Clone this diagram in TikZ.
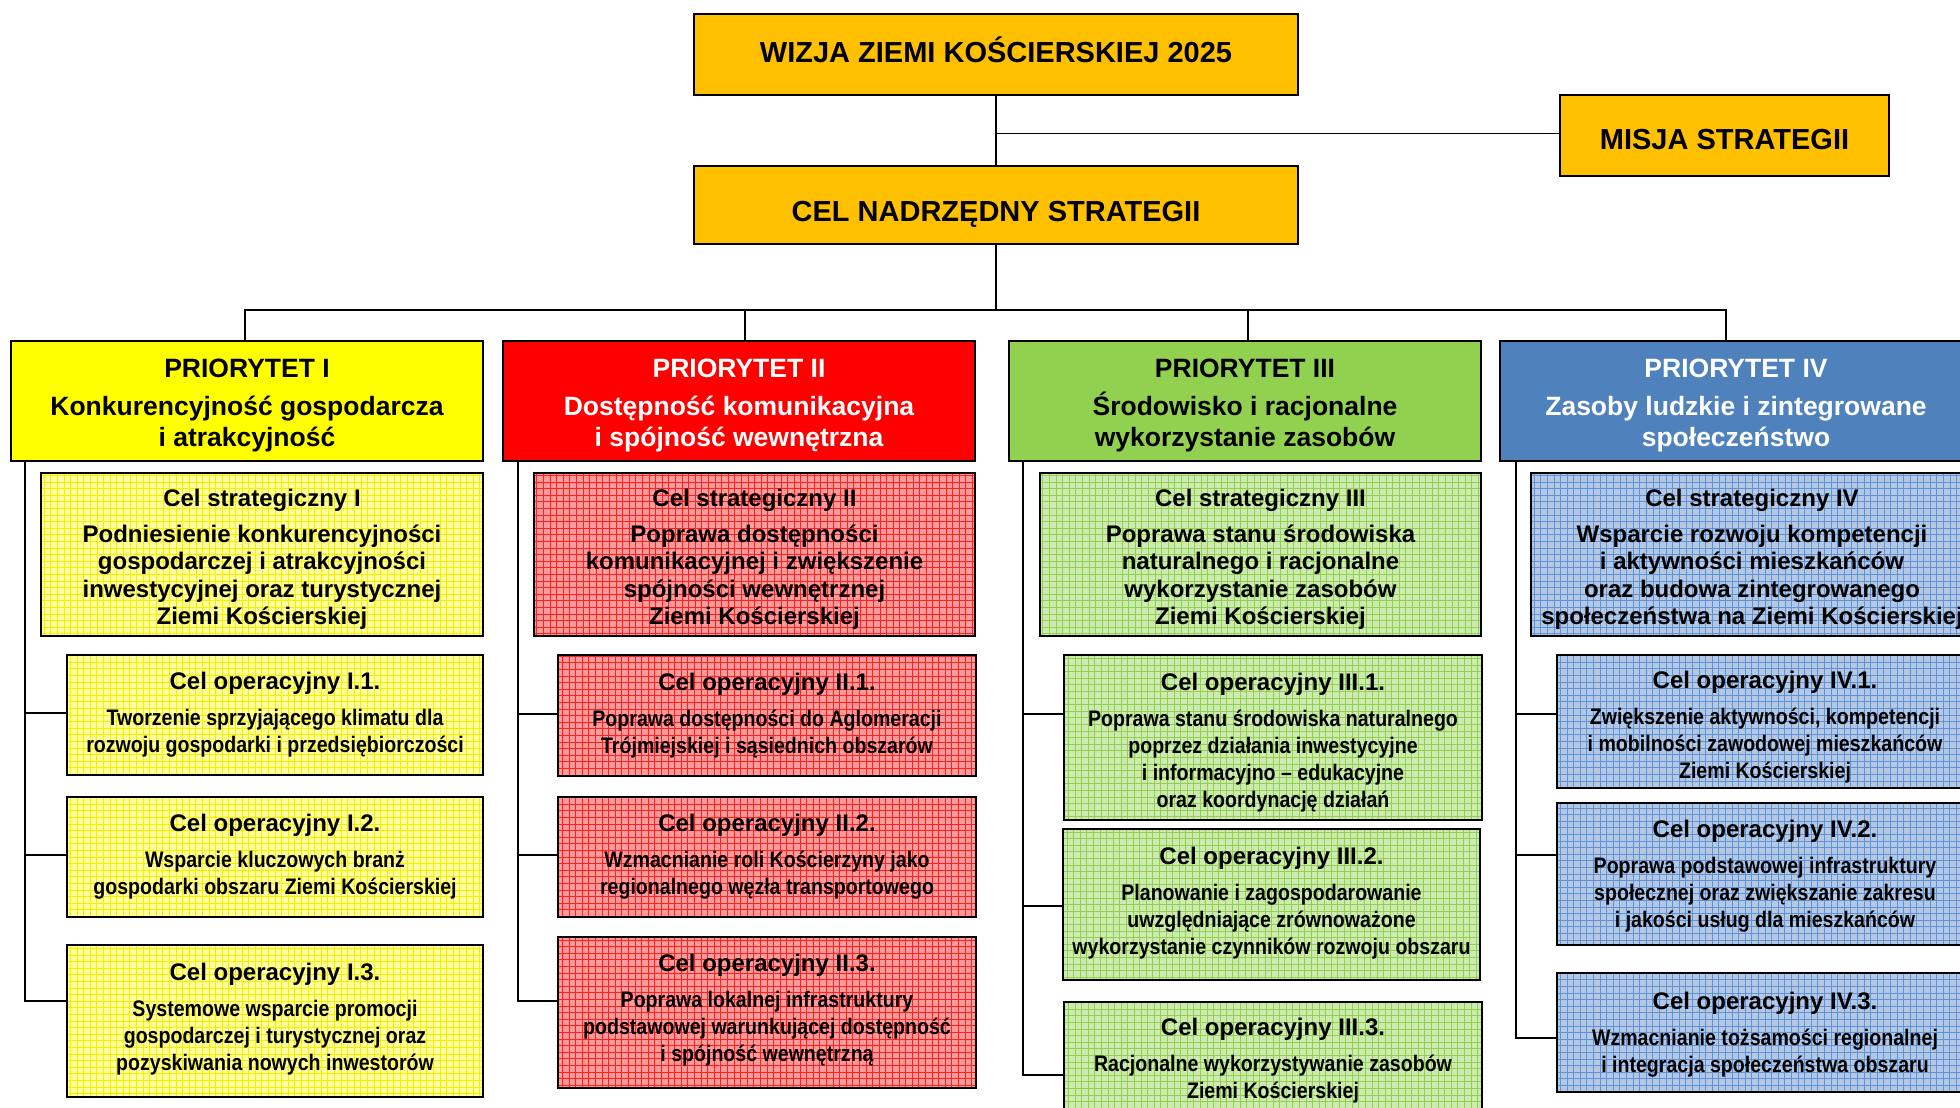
\documentclass[tikz,border=0pt]{standalone}
\usepackage{fontspec}
\setmainfont{Liberation Sans}
\newfontfamily\narrowf[FakeStretch=0.87]{Liberation Sans}
\newcommand\nb{\narrowf\fontsize{11.25}{13.5}\selectfont}
\definecolor{orangeC}{HTML}{FFC000}
\definecolor{pY}{HTML}{FFFF00}
\definecolor{pR}{HTML}{FF0000}
\definecolor{pG}{HTML}{92D050}
\definecolor{pB}{HTML}{4F81BD}
\definecolor{ylbg}{HTML}{FFFFA0}
\definecolor{ylln}{HTML}{F4F000}
\definecolor{rdbg}{HTML}{FF9A9A}
\definecolor{rdln}{HTML}{FF2020}
\definecolor{grbg}{HTML}{CDEBB0}
\definecolor{grln}{HTML}{92D050}
\definecolor{blbg}{HTML}{B4C8E4}
\definecolor{blln}{HTML}{5F93D8}
\tikzset{
  base/.style={draw=black, line width=1pt, inner sep=0pt, outer sep=0pt},
  topbox/.style={base, fill=orangeC},
  pribox/.style={base, fill=#1},
  gridfill/.style 2 args={fill=#1, path picture={\draw[#2, line width=0.38pt, step=3.3pt] (path picture bounding box.south west) grid (path picture bounding box.north east);}},
  yg/.style={base, gridfill={ylbg}{ylln}},
  rg/.style={base, gridfill={rdbg}{rdln}},
  gg/.style={base, gridfill={grbg}{grln}},
  bg/.style={base, gridfill={blbg}{blln}},
  txt/.style={inner sep=0pt, outer sep=0pt, align=flush center},
  toptxt/.style={txt, font=\bfseries\fontsize{14.5}{17}\selectfont},
  pritxt/.style={txt, font=\bfseries\fontsize{13.25}{15.5}\selectfont},
  cstxt/.style={txt, font=\bfseries\fontsize{12}{13.75}\selectfont},
  optxt/.style={txt, font=\bfseries\fontsize{12}{13.5}\selectfont},
  conn/.style={draw=black, line width=1pt},
  thinconn/.style={draw=black, line width=0.6pt}
}
% name x1 y1 x2 y2 boxstyle textstyle dy text
\newcommand\bx[9]{%
  \pgfmathsetmacro\bxw{(#4-#2)*0.5}%
  \pgfmathsetmacro\bxh{(#5-#3)*0.5}%
  \node[#6, minimum width=\bxw pt, minimum height=\bxh pt] (#1) at ({(#2+#4)/2},{(#3+#5)/2}) {};
  \node[#7, text width=\bxw pt] (#1-t) at ({(#2+#4)/2},{(#3+#5)/2+#8}) {#9};}
\begin{document}
\begin{tikzpicture}[x=0.5pt, y=-0.5pt]
\useasboundingbox (0,0) rectangle (1960,1108);
\clip (0,0) rectangle (1960,1108);
\fill[white] (0,0) rectangle (1960,1108);

% top level
\bx{wizja}{694}{14}{1298}{95}{topbox}{toptxt}{-5}{WIZJA ZIEMI KOŚCIERSKIEJ 2025}
\bx{misja}{1560}{95}{1889}{176}{topbox}{toptxt}{4}{MISJA STRATEGII}
\bx{cel}{694}{166}{1298}{244}{topbox}{toptxt}{9}{CEL NADRZĘDNY STRATEGII}

% priorities
\bx{p1}{11}{341}{483}{461}{pribox=pY}{pritxt}{4}{PRIORYTET I\\[3.5pt]Konkurencyjność gospodarcza\\i atrakcyjność}
\bx{p2}{503}{341}{975}{461}{pribox=pR}{pritxt, text=white}{4}{PRIORYTET II\\[3.5pt]Dostępność komunikacyjna\\i spójność wewnętrzna}
\bx{p3}{1009}{341}{1481}{461}{pribox=pG}{pritxt}{4}{PRIORYTET III\\[3.5pt]Środowisko i racjonalne\\wykorzystanie zasobów}
\bx{p4}{1500}{341}{1972}{461}{pribox=pB}{pritxt, text=white}{4}{PRIORYTET IV\\[3.5pt]Zasoby ludzkie i zintegrowane\\społeczeństwo}

% strategic goals
\bx{cs1}{41}{473}{483}{636}{yg}{cstxt}{5}{Cel strategiczny I\\[4.25pt]Podniesienie konkurencyjności\\gospodarczej i atrakcyjności\\inwestycyjnej oraz turystycznej\\Ziemi Kościerskiej}
\bx{cs2}{534}{473}{975}{636}{rg}{cstxt}{5}{Cel strategiczny II\\[4.25pt]Poprawa dostępności\\komunikacyjnej i zwiększenie\\spójności wewnętrznej\\Ziemi Kościerskiej}
\bx{cs3}{1040}{473}{1481}{636}{gg}{cstxt}{5}{Cel strategiczny III\\[4.25pt]Poprawa stanu środowiska\\naturalnego i racjonalne\\wykorzystanie zasobów\\Ziemi Kościerskiej}
\bx{cs4}{1531}{473}{1973}{636}{bg}{cstxt}{5}{Cel strategiczny IV\\[4.25pt]Wsparcie rozwoju kompetencji\\i aktywności mieszkańców\\oraz budowa zintegrowanego\\społeczeństwa na Ziemi Kościerskiej}

% operational goals I
\bx{o11}{67}{655}{483}{775}{yg}{optxt}{0}{Cel operacyjny I.1.\\[4.5pt]\nb Tworzenie sprzyjającego klimatu dla\\rozwoju gospodarki i przedsiębiorczości}
\bx{o12}{67}{797}{483}{917}{yg}{optxt}{0}{Cel operacyjny I.2.\\[4.5pt]\nb Wsparcie kluczowych branż\\gospodarki obszaru Ziemi Kościerskiej}
\bx{o13}{67}{945}{483}{1097}{yg}{optxt}{-2}{Cel operacyjny I.3.\\[4.5pt]\nb Systemowe wsparcie promocji\\gospodarczej i turystycznej oraz\\pozyskiwania nowych inwestorów}
% II
\bx{o21}{558}{655}{976}{776}{rg}{optxt}{0}{Cel operacyjny II.1.\\[4.5pt]\nb Poprawa dostępności do Aglomeracji\\Trójmiejskiej i sąsiednich obszarów}
\bx{o22}{558}{797}{976}{917}{rg}{optxt}{0}{Cel operacyjny II.2.\\[4.5pt]\nb Wzmacnianie roli Kościerzyny jako\\regionalnego węzła transportowego}
\bx{o23}{558}{937}{976}{1088}{rg}{optxt}{-2}{Cel operacyjny II.3.\\[4.5pt]\nb Poprawa lokalnej infrastruktury\\podstawowej warunkującej dostępność\\i spójność wewnętrzną}
% III
\bx{o31}{1064}{655}{1482}{820}{gg}{optxt}{5}{Cel operacyjny III.1.\\[4.5pt]\nb Poprawa stanu środowiska naturalnego\\poprzez działania inwestycyjne\\i informacyjno – edukacyjne\\oraz koordynację działań}
\bx{o32}{1063}{829}{1480}{980}{gg}{optxt}{-1}{Cel operacyjny III.2.\\[4.5pt]\nb Planowanie i zagospodarowanie\\uwzględniające zrównoważone\\wykorzystanie czynników rozwoju obszaru}
\bx{o33}{1064}{1002}{1482}{1122}{gg}{optxt}{-1}{Cel operacyjny III.3.\\[4.5pt]\nb Racjonalne wykorzystywanie zasobów\\Ziemi Kościerskiej}
% IV
\bx{o41}{1557}{655}{1973}{788}{bg}{optxt}{6}{Cel operacyjny IV.1.\\[4.5pt]\nb Zwiększenie aktywności, kompetencji\\i mobilności zawodowej mieszkańców\\Ziemi Kościerskiej}
\bx{o42}{1557}{803}{1973}{945}{bg}{optxt}{2}{Cel operacyjny IV.2.\\[4.5pt]\nb Poprawa podstawowej infrastruktury\\społecznej oraz zwiększanie zakresu\\i jakości usług dla mieszkańców}
\bx{o43}{1557}{973}{1973}{1092}{bg}{optxt}{2}{Cel operacyjny IV.3.\\[4.5pt]\nb Wzmacnianie tożsamości regionalnej\\i integracja społeczeństwa obszaru}

% top connectors
\draw[thinconn] (wizja.south) -- (cel.north);
\coordinate (mj0) at (wizja.south |- misja.west);
\coordinate (mj) at ([yshift=1pt]mj0);
\draw[line width=0.9pt] (mj) -- (misja.west |- mj);
\coordinate (bus) at ([yshift=-33pt]cel.south);
\draw[thinconn] (cel.south) -- (bus);
\coordinate (d1) at ([xshift=-1pt]p1.north);
\coordinate (d2) at ([xshift=3pt]p2.north);
\coordinate (d3) at ([xshift=1.5pt]p3.north);
\coordinate (d4) at ([xshift=-5pt]p4.north);
\draw[line width=1.2pt] (d1) |- (bus) -| (d4);
\draw[conn] (d2) -- (d2 |- bus);
\draw[conn] (d3) -- (d3 |- bus);

% spines
\coordinate (s1) at ([xshift=7pt]p1.south west);
\coordinate (s2) at ([xshift=7.5pt]p2.south west);
\coordinate (s3) at ([xshift=7pt]p3.south west);
\coordinate (s4) at ([xshift=8pt]p4.south west);

\coordinate (b11) at ([yshift=1pt]o11.west);
\coordinate (b12) at ([yshift=1pt]o12.west);
\coordinate (b13) at ([yshift=10pt]o13.west);
\draw[conn] (s1) |- (b13);
\draw[conn] (s1 |- b11) -- (b11);
\draw[conn] (s1 |- b12) -- (b12);

\coordinate (b21) at ([yshift=1pt]o21.west);
\coordinate (b22) at ([yshift=1pt]o22.west);
\coordinate (b23) at ([yshift=5.75pt]o23.west);
\draw[conn] (s2) |- (b23);
\draw[conn] (s2 |- b21) -- (b21);
\draw[conn] (s2 |- b22) -- (b22);

\coordinate (b31) at ([yshift=11.75pt]o31.west);
\coordinate (b32) at ([yshift=-0.75pt]o32.west);
\coordinate (b33) at ([yshift=-6.5pt]o33.west);
\draw[conn] (s3) |- (b33);
\draw[conn] (s3 |- b31) -- (b31);
\draw[conn] (s3 |- b32) -- (b32);

\coordinate (b41) at ([yshift=3.75pt]o41.west);
\coordinate (b42) at ([yshift=9.5pt]o42.west);
\coordinate (b43) at ([yshift=-2.75pt]o43.west);
\draw[conn] (s4) |- (b43);
\draw[conn] (s4 |- b41) -- (b41);
\draw[conn] (s4 |- b42) -- (b42);
\end{tikzpicture}
\end{document}
